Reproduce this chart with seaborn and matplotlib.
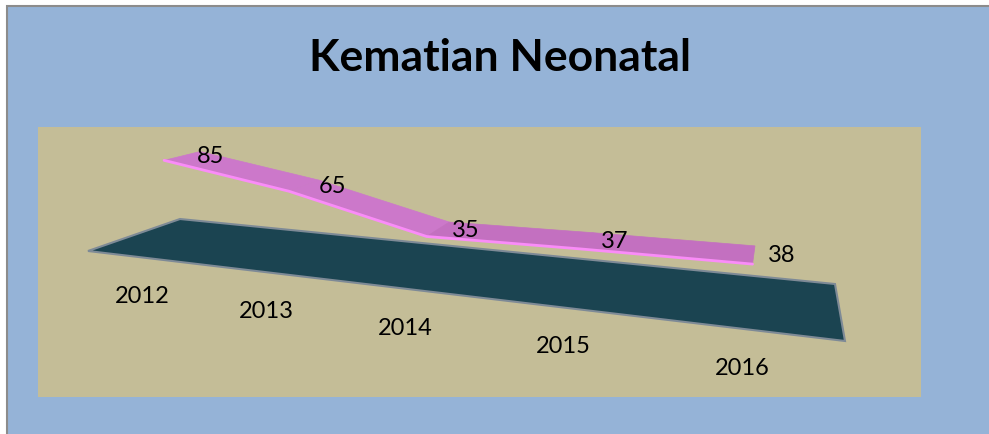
import numpy as np
import pandas as pd
import matplotlib.pyplot as plt
import seaborn as sns

years = ["2012", "2013", "2014", "2015", "2016"]
deaths = [85, 65, 35, 37, 38]
title = "Kematian Neonatal"

sns.set_theme(style="white")
plt.rcParams["font.family"] = ["Lato", "DejaVu Sans"]

# perspective camera of the excel-like 3d chart:
# (category, depth, value, 1) -> homogeneous pixel coords
CAM = np.array([
    [106.506, 119.30, -0.17579, 141.253],
    [-0.170, 1.37, -1.09366, 251.915],
    [-0.053128, 0.15167, -3.67e-4, 0.973436],
])


def project(u, w, z):
    u = np.asarray(u, dtype=float)
    w = np.broadcast_to(np.asarray(w, dtype=float), u.shape)
    z = np.broadcast_to(np.asarray(z, dtype=float), u.shape)
    hom = CAM @ np.vstack([u, w, z, np.ones_like(u)])
    return hom[0] / hom[2], hom[1] / hom[2]


df = pd.DataFrame({"year": years, "deaths": deaths})
df["pos"] = np.arange(len(df), dtype=float)
n = len(df)

fig = plt.figure(figsize=(9.89, 4.35), dpi=100, facecolor="white")
ax = fig.add_axes([0, 0, 1, 1])

# chart area and plot area
ax.fill([7, 995, 995, 7], [7, 7, 440, 440], facecolor="#95B3D7", edgecolor="#8C8C8C", lw=1.5, zorder=0)
ax.fill([38, 921, 921, 38], [128, 128, 398, 398], facecolor="#C4BD97", edgecolor="none", zorder=1)

# floor
fx, fy = project([-0.5, n - 0.5, n - 0.5, -0.5], [0, 0, 1, 1], 0)
ax.fill(fx, fy, facecolor="#1B4451", edgecolor="#7E8A96", lw=1.5, zorder=2)

# ribbon, one flat strip per segment
w_front, w_back = 0.3, 0.7
for i in range(n - 1):
    u = [df.pos[i], df.pos[i + 1], df.pos[i + 1], df.pos[i]]
    z = [df.deaths[i], df.deaths[i + 1], df.deaths[i + 1], df.deaths[i]]
    rx, ry = project(u, [w_front, w_front, w_back, w_back], z)
    col = "#CC78CA" if df.deaths[i + 1] < df.deaths[i] else "#C370C0"
    ax.fill(rx, ry, facecolor=col, edgecolor=col, lw=0.5, zorder=3)

ex, ey = project(df.pos, w_front, df.deaths)
edge = pd.DataFrame({"x": ex, "y": ey})
sns.lineplot(data=edge, x="x", y="y", ax=ax, color="#FA8CF8", lw=2, sort=False, estimator=None, zorder=4)

# data labels
mx, my = project(df.pos, 0.5, df.deaths)
for x, y, v in zip(mx, my, df.deaths):
    ax.text(x + 14, y, str(v), ha="left", va="center", fontsize=17, color="black", zorder=5)

# category labels under the front edge of the floor
cx, cy = project(df.pos, 0, 0)
for x, y, lab in zip(cx, cy, df.year):
    ax.text(x - 3, y + 38, lab, ha="center", va="center", fontsize=17, color="black", zorder=5)

ax.text(500, 58, title, ha="center", va="center", fontsize=32, fontweight="bold", color="black")

ax.set_xlim(0, 989)
ax.set_ylim(435, 0)
ax.axis("off")
fig.savefig("out.png", dpi=100, facecolor="white")
